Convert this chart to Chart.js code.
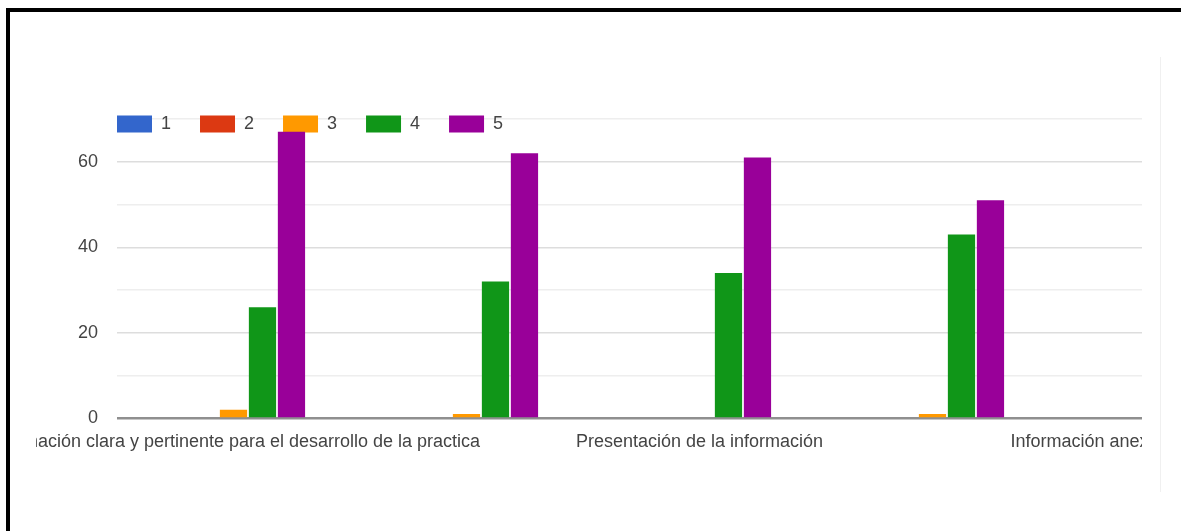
<!DOCTYPE html>
<html>

<head>
  <meta charset="utf-8">
  <meta name="viewport" content="width=device-width">
  <title>Evaluación de la práctica</title>
  <style>
    html, body { margin: 0; width: 1181px; height: 531px; overflow: hidden; background: #fff; }
    #marco { position: absolute; left: 6px; top: 8px; width: 1300px; height: 600px; border-top: 4px solid #000; border-left: 4px solid #000; }
    #borde { position: absolute; left: 1160px; top: 57px; width: 1px; height: 435px; background: #f0f0f0; }
    #recorte { position: absolute; left: 36px; top: 0; width: 1106px; height: 531px; overflow: hidden; }
    #lienzo { position: absolute; left: -76px; top: 0; width: 1382px; height: 531px; }
  </style>
</head>

<body>
  <div id="marco"></div>
  <div id="borde"></div>
  <div id="recorte"><div id="lienzo"><canvas id="grafico"></canvas></div></div>

  <script src="https://cdn.jsdelivr.net/npm/chart.js"></script>
  <script>
    // criterios evaluados (solo se rotulan los pares, como en el formulario)
    const categorias = [
      'Información clara y pertinente para el desarrollo de la practica',
      'Organización del informe',
      'Presentación de la información',
      'Uso de fuentes bibliográficas',
      'Información anexa y material de apoyo'
    ];
    // número de respuestas por puntaje (1 a 5)
    const puntaje1 = [0, 0, 0, 0, 0];
    const puntaje2 = [0, 0, 0, 0, 0];
    const puntaje3 = [2, 1, 0, 1, null];
    const puntaje4 = [26, 32, 34, 43, null];
    const puntaje5 = [67, 62, 61, 51, null];
    const etiquetasSeries = ['1', '2', '3', '4', '5'];
    const colores = ['#3366cc', '#dc3912', '#ff9900', '#109618', '#990099'];
    const marcasEje = [0, 20, 40, 60];

    const fuente = 'Arial, "Liberation Sans", sans-serif';

    // la leyenda se monta sobre la línea superior de la cuadrícula
    const leyendaEncima = {
      id: 'leyendaEncima',
      afterLayout(chart) {
        const lg = chart.legend;
        const pad = lg.options.labels.padding;
        lg.left = chart.chartArea.left - pad;
        lg.right = lg.left + lg.width;
        lg.bottom = lg.top + 60;
        lg.height = 60;
      }
    };

    const series = [puntaje1, puntaje2, puntaje3, puntaje4, puntaje5];

    new Chart(document.getElementById('grafico'), {
      type: 'bar',
      data: {
        labels: categorias,
        datasets: series.map((datos, i) => ({
          label: etiquetasSeries[i],
          data: datos,
          backgroundColor: colores[i],
          borderWidth: 0,
          categoryPercentage: 0.622,
          barPercentage: 0.94
        }))
      },
      options: {
        responsive: true,
        maintainAspectRatio: false,
        animation: false,
        layout: { padding: { top: 86, right: 60, bottom: 73, left: 0 } },
        plugins: {
          tooltip: { enabled: false },
          legend: {
            position: 'top',
            align: 'start',
            fullSize: false,
            maxHeight: 33,
            labels: {
              boxWidth: 35,
              boxHeight: 17,
              padding: 29,
              color: '#444',
              font: { family: fuente, size: 18 }
            }
          }
        },
        scales: {
          x: {
            grid: { display: false },
            border: { display: false },
            ticks: {
              autoSkip: false,
              maxRotation: 0,
              minRotation: 0,
              padding: 5,
              color: '#444',
              font: { family: fuente, size: 18 },
              callback: (v, i) => (i % 2 === 0 ? categorias[i] : '')
            }
          },
          y: {
            min: 0,
            max: 70,
            afterFit: (eje) => { eje.width = 157; },
            border: { display: false },
            grid: {
              drawTicks: false,
              color: (c) => c.tick.value === 0 ? '#8f8f8f' : (c.tick.value % 20 === 0 ? '#dddddd' : '#eeeeee'),
              lineWidth: (c) => c.tick.value === 0 ? 2.5 : 1.5
            },
            ticks: {
              stepSize: 10,
              padding: 19,
              color: '#444',
              font: { family: fuente, size: 18 },
              callback: (v) => (marcasEje.includes(v) ? v : '')
            }
          }
        }
      },
      plugins: [leyendaEncima]
    });
  </script>
</body>
</html>
